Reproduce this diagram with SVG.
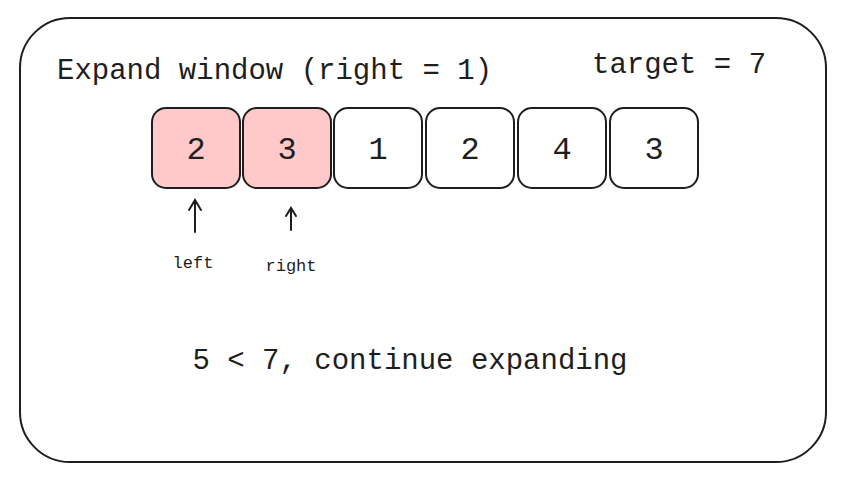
<svg xmlns="http://www.w3.org/2000/svg" width="844" height="480" viewBox="0 0 844 480">
<style>
text{font-family:"Liberation Mono","DejaVu Sans Mono",monospace;fill:#1e1e1e}
.box{stroke:#1e1e1e;stroke-width:2;fill:none}
.hl{fill:#ffc9c9}
.num{font-size:32px;text-anchor:middle}
.lbl{font-size:17px;text-anchor:middle}
.arr{stroke:#1e1e1e;stroke-width:2;fill:none;stroke-linecap:round}
</style>
<rect x="0" y="0" width="844" height="480" fill="#fff"/>
<g id="frame"><rect x="20" y="18" width="806" height="444" rx="50" class="box"/></g>
<text x="57" y="79" font-size="29">Expand window (right = 1)</text>
<text x="592" y="73" font-size="29">target = 7</text>
<g id="n0"><rect x="152" y="108" width="88" height="80" rx="14" class="box hl"/><text x="196" y="159" class="num">2</text></g>
<g id="n1"><rect x="243" y="108" width="88" height="80" rx="14" class="box hl"/><text x="287" y="159" class="num">3</text></g>
<g id="n2"><rect x="334" y="108" width="88" height="80" rx="14" class="box"/><text x="378" y="159" class="num">1</text></g>
<g id="n3"><rect x="426" y="108" width="88" height="80" rx="14" class="box"/><text x="470" y="159" class="num">2</text></g>
<g id="n4"><rect x="518" y="108" width="88" height="80" rx="14" class="box"/><text x="562" y="159" class="num">4</text></g>
<g id="n5"><rect x="610" y="108" width="88" height="80" rx="14" class="box"/><text x="654" y="159" class="num">3</text></g>
<g id="connectors">
<path class="arr" d="M195 232 L195 200 M189 210 L195 200 L201 210"/>
<path class="arr" d="M291 230 L291 208 M286 216 L291 208 L296 216"/>
</g>
<text x="193" y="268" class="lbl">left</text>
<text x="291" y="271" class="lbl">right</text>
<text x="410" y="369" font-size="29" text-anchor="middle">5 &lt; 7, continue expanding</text>
</svg>
